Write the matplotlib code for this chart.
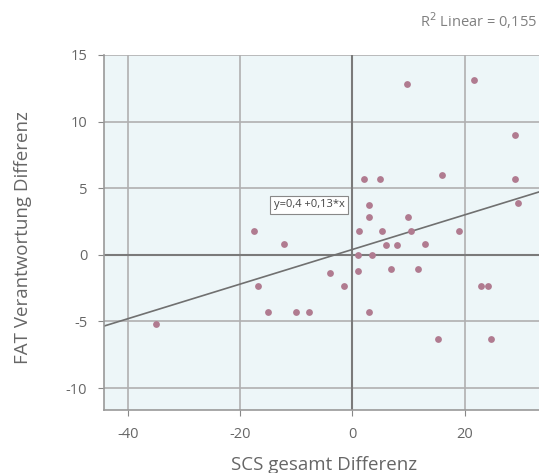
import matplotlib
matplotlib.use('Agg')
import matplotlib.pyplot as plt
import numpy as np

# Werte
scs_diff = [9.8, 21.7, 28.9, 2.1, 4.95, 15.9, 28.9, 2.94, 29.5, 2.94, 9.9,
            1.16, 5.25, 10.5, 18.95, 5.9, 7.9, 12.96, 0.92, 3.5, 0.92, 6.8,
            11.7, -1.5, 22.8, 24.05, 2.94, 15.3, 24.6,
            -17.5, -12.1, -3.95, -16.8, -15.0, -10.1, -7.7, -35.0]
fat_diff = [12.85, 13.1, 9.0, 5.7, 5.7, 5.97, 5.7, 3.76, 3.9, 2.8, 2.8,
            1.76, 1.76, 1.76, 1.76, 0.7, 0.7, 0.82, 0.0, 0.0, -1.19, -1.07,
            -1.07, -2.34, -2.34, -2.34, -4.3, -6.3, -6.3,
            1.75, 0.8, -1.34, -2.34, -4.3, -4.3, -4.3, -5.2]
fit_a = 0.4
fit_b = 0.13
r2_text = 'R$^2$ Linear = 0,155'
fit_text = 'y=0,4 +0,13*x'
xticks = [-40, -20, 0, 20]
yticks = [-10, -5, 0, 5, 10, 15]

plt.rcParams['font.family'] = ['Open Sans', 'DejaVu Sans']
plt.rcParams['axes.unicode_minus'] = False
txt = '#666666'

fig = plt.figure(figsize=(5.39, 4.73), dpi=100)
ax = fig.add_axes([0.193, 0.133, 0.807, 0.751])
ax.set_facecolor('#edf6f8')

xmin, xmax = -44.2, 33.2
ax.set_xlim(xmin, xmax)
ax.set_ylim(-11.65, 15)

# Gitter
for xt in xticks:
    ax.axvline(xt, color='#b0b0b0', lw=1.2, zorder=1)
for yt in yticks:
    ax.axhline(yt, color='#b0b0b0', lw=1.2, zorder=1)
ax.axvline(0, color='#7a7a7a', lw=1.5, zorder=1)
ax.axhline(0, color='#7a7a7a', lw=1.5, zorder=1)

# Regressionsgerade
xs = np.array([xmin, xmax])
ax.plot(xs, fit_a + fit_b * xs, color='#707070', lw=1.2, zorder=2)

ax.scatter(scs_diff, fat_diff, s=24, color='#b07b90', zorder=3, linewidths=0)

ax.text(-7.7, 3.74, fit_text, fontsize=8, color='#444444', ha='center', va='center',
        bbox=dict(boxstyle='square,pad=0.3', fc='white', ec='#888888', lw=0.8), zorder=4)

ax.set_xticks(xticks)
ax.set_yticks(yticks)
ax.tick_params(colors='#888888', labelcolor=txt, labelsize=10.5, length=4, direction='out')
ax.tick_params(axis='x', pad=8)
ax.tick_params(axis='y', pad=8)
for s in ['top', 'right']:
    ax.spines[s].set_visible(False)
for s in ['left', 'bottom']:
    ax.spines[s].set_color('#999999')
    ax.spines[s].set_linewidth(1.2)

ax.set_xlabel('SCS gesamt Differenz', fontsize=13.5, color=txt, va='center')
ax.xaxis.set_label_coords(0.506, -0.155)
ax.set_ylabel('FAT Verantwortung Differenz', fontsize=13.5, color=txt, va='center')
ax.yaxis.set_label_coords(-0.186, 0.487)

fig.text(0.997, 0.956, r2_text, fontsize=10.5, color='#808080', ha='right', va='center')

fig.savefig('out.png', dpi=100)
